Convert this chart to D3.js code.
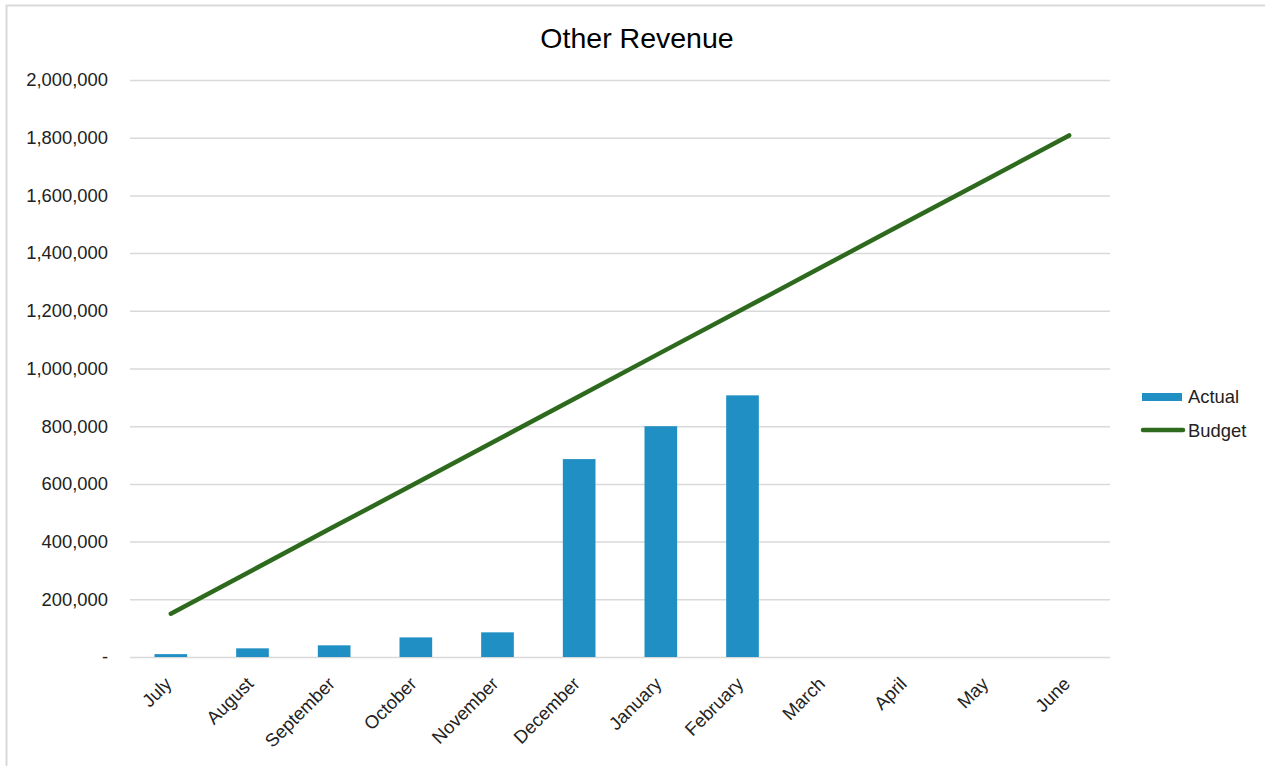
<!DOCTYPE html>
<html>
<head>
<meta charset="utf-8">
<script src="https://cdn.jsdelivr.net/npm/d3@7"></script>
<style>
  html, body { margin: 0; padding: 0; background: #fff; }
  svg { display: block; font-family: "Liberation Sans", Arial, sans-serif; }
</style>
</head>
<body>
<svg id="chart" width="1265" height="766"></svg>
<script>
const months = ["July", "August", "September", "October", "November", "December",
                "January", "February", "March", "April", "May", "June"];
const actual = [10000, 30000, 40500, 68000, 85500, 686000, 800000, 907000, null, null, null, null];
const budget = [150000, 301000, 452000, 602000, 753000, 904000, 1055000, 1205000, 1356000, 1507000, 1657000, 1808000];
const yTicks = [0, 200000, 400000, 600000, 800000, 1000000, 1200000, 1400000, 1600000, 1800000, 2000000];

const svg = d3.select("#chart");
const W = 1265, H = 766;
const plot = { left: 130, right: 1110, top: 80, bottom: 657 };
const labelSize = 18.4;

// Chart frame
svg.append("rect")
  .attr("x", 6.5).attr("y", 5.5)
  .attr("width", W + 10).attr("height", H + 10)
  .attr("fill", "#fff").attr("stroke", "#d9d9d9").attr("stroke-width", 2);

const x = d3.scaleBand().domain(months).range([plot.left, plot.right]).paddingInner(0).paddingOuter(0);
const y = d3.scaleLinear().domain([0, 2000000]).range([plot.bottom, plot.top]);

// Title
svg.append("text")
  .attr("x", 637).attr("y", 48)
  .attr("text-anchor", "middle")
  .attr("font-size", 28.5)
  .attr("fill", "#000")
  .text("Other Revenue");

// Gridlines + y labels
const fmt = v => v === 0 ? "-" : d3.format(",")(v);
const yAxis = d3.axisLeft(y).tickValues(yTicks).tickSize(-(plot.right - plot.left)).tickFormat(fmt).tickPadding(22);
const yg = svg.append("g").attr("transform", `translate(${plot.left},0)`).call(yAxis);
yg.select(".domain").remove();
yg.selectAll(".tick line").attr("stroke", "#d9d9d9").attr("stroke-width", 1.5);
yg.selectAll(".tick text").attr("font-size", labelSize).attr("fill", "#222").attr("font-family", "Liberation Sans, Arial, sans-serif");

// X axis labels, rotated
const xAxis = d3.axisBottom(x).tickSize(0).tickPadding(0);
const xg = svg.append("g").attr("transform", `translate(0,${plot.bottom})`).call(xAxis);
xg.select(".domain").remove();
xg.selectAll(".tick text")
  .attr("font-size", labelSize).attr("fill", "#222")
  .attr("font-family", "Liberation Sans, Arial, sans-serif")
  .attr("text-anchor", "end")
  .attr("dy", 0)
  .attr("transform", "translate(2,28) rotate(-45)");

// Bars
const barW = x.bandwidth() * 0.4;
svg.append("g").selectAll("rect")
  .data(months.map((m, i) => ({ m, v: actual[i] })).filter(d => d.v != null))
  .join("rect")
  .attr("x", d => x(d.m) + (x.bandwidth() - barW) / 2)
  .attr("y", d => y(d.v))
  .attr("width", barW)
  .attr("height", d => y(0) - y(d.v))
  .attr("fill", "#208fc3");

// Budget line
const line = d3.line().x((d, i) => x(months[i]) + x.bandwidth() / 2).y(d => y(d));
svg.append("path")
  .datum(budget)
  .attr("d", line)
  .attr("fill", "none")
  .attr("stroke", "#2d6a1d")
  .attr("stroke-width", 4.5)
  .attr("stroke-linecap", "round");

// Legend
const lg = svg.append("g");
lg.append("rect").attr("x", 1142).attr("y", 393).attr("width", 40).attr("height", 8).attr("fill", "#208fc3");
lg.append("text").attr("x", 1188).attr("y", 403).attr("font-size", labelSize).attr("fill", "#222").text("Actual");
lg.append("line").attr("x1", 1143).attr("x2", 1183).attr("y1", 430).attr("y2", 430)
  .attr("stroke", "#2d6a1d").attr("stroke-width", 4.5).attr("stroke-linecap", "round");
lg.append("text").attr("x", 1188).attr("y", 437).attr("font-size", labelSize).attr("fill", "#222").text("Budget");
</script>
</body>
</html>
